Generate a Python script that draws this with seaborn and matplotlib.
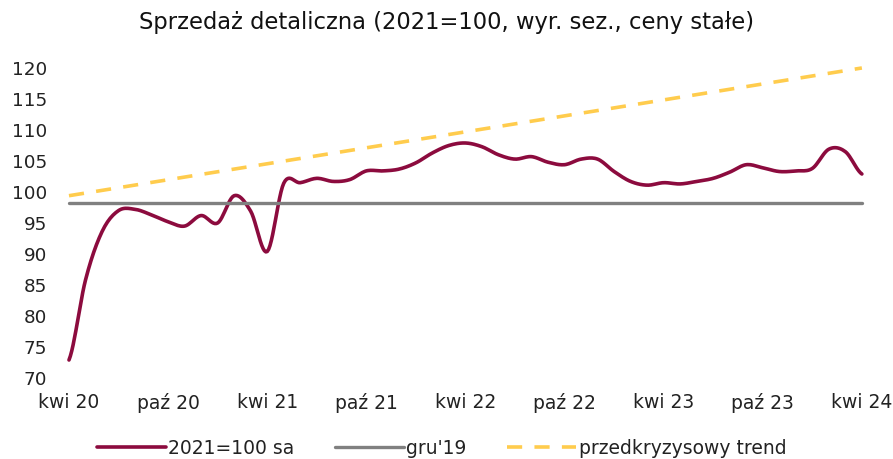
import numpy as np
import pandas as pd
import seaborn as sns
import matplotlib
matplotlib.use("Agg")
import matplotlib.pyplot as plt

# dane (kwi 2020 - kwi 2024, miesięcznie)
sprzedaz = [72.9, 85.8, 93.6, 97.0, 97.2, 96.3, 95.2, 94.5, 96.2, 95.0,
            99.4, 96.9, 90.4, 101.4, 101.5, 102.2, 101.7, 102.0, 103.4, 103.4,
            103.7, 104.7, 106.3, 107.5, 107.9, 107.3, 106.0, 105.3, 105.7, 104.8,
            104.4, 105.3, 105.3, 103.3, 101.7, 101.1, 101.5, 101.3, 101.7, 102.2,
            103.2, 104.4, 103.9, 103.3, 103.4, 103.8, 106.9, 106.5, 102.9]
gru19 = 98.2
trend_start, trend_end = 99.4, 120.0
tick_labels = ["kwi 20", "paź 20", "kwi 21", "paź 21", "kwi 22",
               "paź 22", "kwi 23", "paź 23", "kwi 24"]

miesiac = np.arange(len(sprzedaz))
y = np.array(sprzedaz)

# wygładzenie linii jak w Excelu (krzywa Catmull-Rom)
p = np.concatenate([[y[0]], y, [y[-1]]])
xs, ys = [], []
t = np.linspace(0, 1, 12, endpoint=False)
for i in range(len(y) - 1):
    p0, p1, p2, p3 = p[i], p[i + 1], p[i + 2], p[i + 3]
    c1 = p1 + (p2 - p0) / 6
    c2 = p2 - (p3 - p1) / 6
    b = (1 - t) ** 3 * p1 + 3 * (1 - t) ** 2 * t * c1 + 3 * (1 - t) * t ** 2 * c2 + t ** 3 * p2
    xs.extend(miesiac[i] + t)
    ys.extend(b)
xs.append(miesiac[-1])
ys.append(y[-1])
smooth = pd.DataFrame({"m": xs, "v": ys})

sns.set_style("white")
plt.rcParams["font.family"] = ["DejaVu Sans"]

fig = plt.figure(figsize=(8.93, 4.59), dpi=100)
ax = fig.add_axes([0.0717, 0.1765, 0.899, 0.6754])

sns.lineplot(data=smooth, x="m", y="v", ax=ax, color="#8C0B3E", lw=2.6,
             label="2021=100 sa", clip_on=False)
sns.lineplot(x=[miesiac[0], miesiac[-1]], y=[gru19, gru19], ax=ax,
             color="#808080", lw=2.4, label="gru'19", clip_on=False)
sns.lineplot(x=[miesiac[0], miesiac[-1]], y=[trend_start, trend_end], ax=ax,
             color="#FFCC4D", lw=2.6, dashes=False, label="przedkryzysowy trend",
             clip_on=False)
ax.lines[-1].set_dashes((4.2, 3.4))
ax.lines[-1].set_dash_capstyle("butt")

ax.set_xlim(-0.3, 48.3)
ax.set_ylim(70, 120)
ax.set_yticks(range(70, 121, 5))
ax.set_xticks(miesiac[::6])
ax.set_xticklabels(tick_labels, fontsize=13.5)
ax.tick_params(axis="y", labelsize=13.2, pad=12, length=0, colors="#222222")
ax.tick_params(axis="x", pad=11, length=0, colors="#222222")
ax.set_xlabel("")
ax.set_ylabel("")
sns.despine(ax=ax, left=True, bottom=True)

fig.text(0.5, 0.952, "Sprzedaż detaliczna (2021=100, wyr. sez., ceny stałe)",
         ha="center", va="center", fontsize=16.3, color="#111111")

ax.legend(loc="center", bbox_to_anchor=(0.47, -0.226), ncol=3,
          frameon=False, handlelength=3.68, handletextpad=0.15, columnspacing=2.13,
          borderaxespad=0, fontsize=13.5)
for txt in ax.get_legend().get_texts():
    txt.set_color("#222222")

fig.savefig("out.png", dpi=100)
